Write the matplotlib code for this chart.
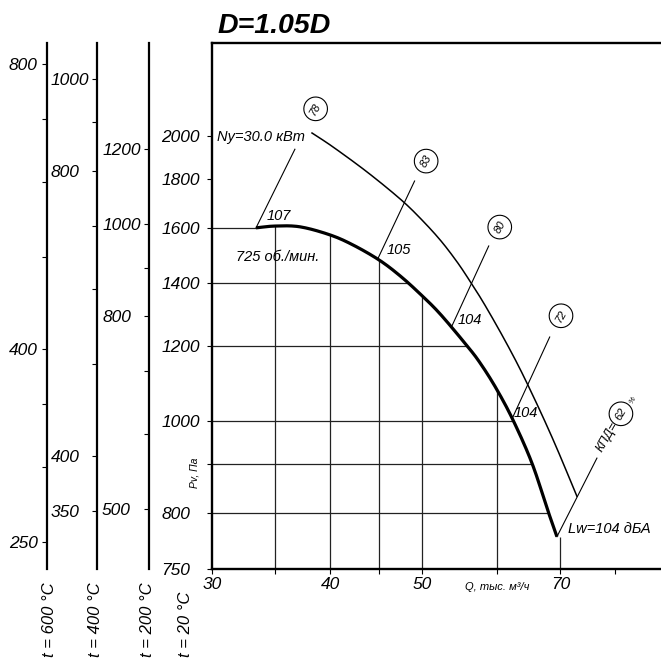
import numpy as np
import matplotlib
matplotlib.use("Agg")
import matplotlib.pyplot as plt

plt.rcParams['font.family'] = ['Liberation Sans', 'DejaVu Sans']
plt.rcParams['font.style'] = 'italic'

# ---------------- data ----------------
title = "D=1.05D"

# main (working) curve: Q [thous. m3/h], Pv [Pa]
q_main = [33.39, 34.97, 37.16, 39.96, 42.26, 45.03, 47.39, 49.75, 52.24, 55.78, 57.58, 59.84, 62.37, 65.32, 67.91, 69.41]
p_main = [1600, 1607, 1604, 1573, 1535, 1480, 1424, 1363, 1298, 1201, 1152, 1084, 1003, 903, 804, 755]

# outer (thin) curve
q_outer = [38.26, 40.26, 43.74, 47.39, 49.75, 52.24, 54.44, 56.19, 58.00, 60.43, 62.67, 64.53, 67.09, 69.59, 72.87]
p_outer = [2015, 1948, 1833, 1717, 1639, 1554, 1473, 1405, 1336, 1244, 1163, 1097, 1010, 930, 833]

# grid values (clipped under the main curve)
q_grid = [35, 40, 45, 50, 60, 70]
p_grid = [800, 900, 1000, 1200, 1400, 1600]

# axis ranges / ticks
q_lim = (30, 89.4)
p_lim = (698, 2508)
x_major = [30, 40, 50, 70]
x_major_labels = ["30", "40", "50", "70"]
x_minor = [35, 45, 60, 80]
y_major = [698, 800, 1000, 1200, 1400, 1600, 1800, 2000]
y_major_labels = ["750", "800", "1000", "1200", "1400", "1600", "1800", "2000"]
y_minor = [900]

# temperature pressure scales
temps = [600, 400, 200]
temp_major = {600: [800, 400, 250], 400: [1000, 800, 400, 350], 200: [1200, 1000, 800, 500]}
temp_minor = {600: [700, 600, 500, 350, 300], 400: [900, 700, 600, 500], 200: [900, 700, 600]}
temp_labels = ["t = 600 °C", "t = 400 °C", "t = 200 °C", "t = 20 °C"]

# efficiency circles (value, Q, P)
circ_vals = ["78", "83", "80", "72", "62"]
circ_q = [38.6, 50.5, 60.4, 70.1, 81.1]
circ_p = [2137, 1882, 1603, 1292, 1018]

# leader lines
lead_q0 = [36.7, 49.1, 58.8, 68.2, 76.5]
lead_p0 = [1937, 1793, 1531, 1227, 914]
lead_q1 = [33.39, 44.9, 53.8, 62.3, 69.41]
lead_p1 = [1600, 1484, 1262, 1008, 755]

# noise labels
noise_vals = ["107", "105", "104", "104"]
noise_q = [35.3, 47.3, 56.2, 64.4]
noise_p = [1647, 1517, 1279, 1020]


def smooth(q, p, n=16):
    """Catmull-Rom rendering of the read points in log-log space."""
    x = np.log10(np.asarray(q, float))
    y = np.log10(np.asarray(p, float))
    P = np.column_stack([x, y])
    P = np.vstack([2 * P[0] - P[1], P, 2 * P[-1] - P[-2]])
    out = []
    t = np.linspace(0, 1, n, endpoint=False)[:, None]
    for i in range(1, len(P) - 2):
        p0, p1, p2, p3 = P[i - 1], P[i], P[i + 1], P[i + 2]
        seg = 0.5 * ((2 * p1) + (-p0 + p2) * t + (2 * p0 - 5 * p1 + 4 * p2 - p3) * t ** 2
                     + (-p0 + 3 * p1 - 3 * p2 + p3) * t ** 3)
        out.append(seg)
    out.append(P[-2][None, :])
    out = np.vstack(out)
    return 10 ** out[:, 0], 10 ** out[:, 1]


# ---------------- figure ----------------
W = H = 661.0
fig = plt.figure(figsize=(6.61, 6.61), dpi=100)
fig.patch.set_facecolor('white')

ax_b, ax_t = 569.0, 43.0
ax = fig.add_axes([212 / W, (H - ax_b) / H, 449 / W, (ax_b - ax_t) / H])
ax.set_xscale('log')
ax.set_yscale('log')
ax.set_xlim(*q_lim)
ax.set_ylim(*p_lim)

for s in ['left', 'bottom', 'top']:
    ax.spines[s].set_linewidth(1.7)
ax.spines['right'].set_visible(False)

ax.set_xticks(x_major)
ax.set_xticklabels(x_major_labels)
ax.set_xticks(x_minor, minor=True)
ax.set_xticklabels([], minor=True)
ax.set_yticks(y_major)
ax.set_yticklabels(y_major_labels)
ax.set_yticks(y_minor, minor=True)
ax.set_yticklabels([], minor=True)
ax.tick_params(axis='both', which='both', direction='out', length=3.6, width=0.8, labelsize=12.5)
ax.tick_params(axis='x', which='major', pad=2)
ax.tick_params(axis='y', which='major', pad=33)
for lbl in ax.get_yticklabels():
    lbl.set_horizontalalignment('left')
    lbl.set_fontstyle('italic')
for lbl in ax.get_xticklabels():
    lbl.set_fontstyle('italic')

# smooth rendering of the curves
qm_s, pm_s = smooth(q_main, p_main)
qo_s, po_s = smooth(q_outer, p_outer)

# grid clipped below main curve
for q in q_grid:
    top = np.interp(q, qm_s, pm_s)
    ax.vlines(q, p_lim[0], top, color='#222222', lw=0.9, zorder=1)


def first_cross(level):
    for i, p in enumerate(pm_s):
        if p <= level:
            if i == 0:
                return qm_s[0]
            p0, p1 = pm_s[i - 1], pm_s[i]
            q0, q1 = qm_s[i - 1], qm_s[i]
            return q0 + (level - p0) * (q1 - q0) / (p1 - p0)
    return qm_s[-1]


for p in p_grid:
    ax.hlines(p, q_lim[0], first_cross(p), color='#222222', lw=0.9, zorder=1)

ax.plot(qm_s, pm_s, color='black', lw=2.3, solid_capstyle='butt', zorder=3)
ax.plot(qo_s, po_s, color='black', lw=1.1, zorder=3)

# leader lines
for a, b, c, d in zip(lead_q0, lead_p0, lead_q1, lead_p1):
    ax.plot([a, c], [b, d], color='black', lw=0.8, zorder=2)

# circled efficiency values
for v, q, p in zip(circ_vals, circ_q, circ_p):
    ax.text(q, p, v, rotation=60, rotation_mode='anchor', ha='center', va='center',
            fontsize=8, zorder=5,
            bbox=dict(boxstyle='circle,pad=0.5', fc='white', ec='black', lw=0.8))

# noise labels
for v, q, p in zip(noise_vals, noise_q, noise_p):
    ax.text(q, p, v, ha='center', va='center', fontsize=10.5, zorder=5)

ax.text(30.4, 1995, "Ny=30.0 кВт", ha='left', va='center', fontsize=10.5, zorder=5)
ax.text(35.2, 1491, "725 об./мин.", ha='center', va='center', fontsize=10.5, zorder=5)
ax.text(71.3, 769, "Lw=104 дБА", ha='left', va='center', fontsize=10.5, zorder=5)
ax.text(78.4, 962, "КПД=", rotation=60, rotation_mode='anchor', ha='center', va='center',
        fontsize=9, zorder=4)
ax.text(83.5, 1053, "%", rotation=60, rotation_mode='anchor', ha='center', va='center',
        fontsize=5.5, zorder=4)

ax.text(60, -0.034, "Q, тыс. м³/ч", transform=ax.get_xaxis_transform(),
        ha='center', va='center', fontsize=8)
ax.text(-0.038, 882, "Pv, Па", transform=ax.get_yaxis_transform(), rotation=90,
        ha='center', va='center', fontsize=7.5)

# title
fig.text(217 / W, 1 - 33 / H, title, fontsize=20.5, fontweight='bold', style='italic',
         va='baseline', ha='left')

# temperature pressure scales
scale_x = {600: 47, 400: 97, 200: 149}
scale_pad = {600: 24, 400: 29.5, 200: 30.2}
for t in temps:
    f = 293.0 / (273.0 + t)
    a2 = fig.add_axes([scale_x[t] / W, (H - ax_b) / H, 0.0005, (ax_b - ax_t) / H])
    a2.set_facecolor('none')
    a2.set_yscale('log')
    a2.set_ylim(p_lim[0] * f, p_lim[1] * f)
    for s in ['right', 'top', 'bottom']:
        a2.spines[s].set_visible(False)
    a2.spines['left'].set_linewidth(1.6)
    a2.set_xticks([])
    a2.set_yticks(temp_major[t])
    a2.set_yticklabels([str(v) for v in temp_major[t]])
    a2.set_yticks(temp_minor[t], minor=True)
    a2.set_yticklabels([], minor=True)
    a2.tick_params(axis='y', which='both', direction='out', length=3.6, width=0.8, labelsize=12.5)
    a2.tick_params(axis='y', which='major', pad=scale_pad[t])
    for lbl in a2.get_yticklabels():
        lbl.set_horizontalalignment('left')
        lbl.set_fontstyle('italic')

for lab, xp in zip(temp_labels, [49, 96, 148, 186]):
    fig.text(xp / W, 1 - 657 / H, lab, rotation=90, ha='center', va='bottom', fontsize=12)

fig.savefig("out.png", dpi=100)
